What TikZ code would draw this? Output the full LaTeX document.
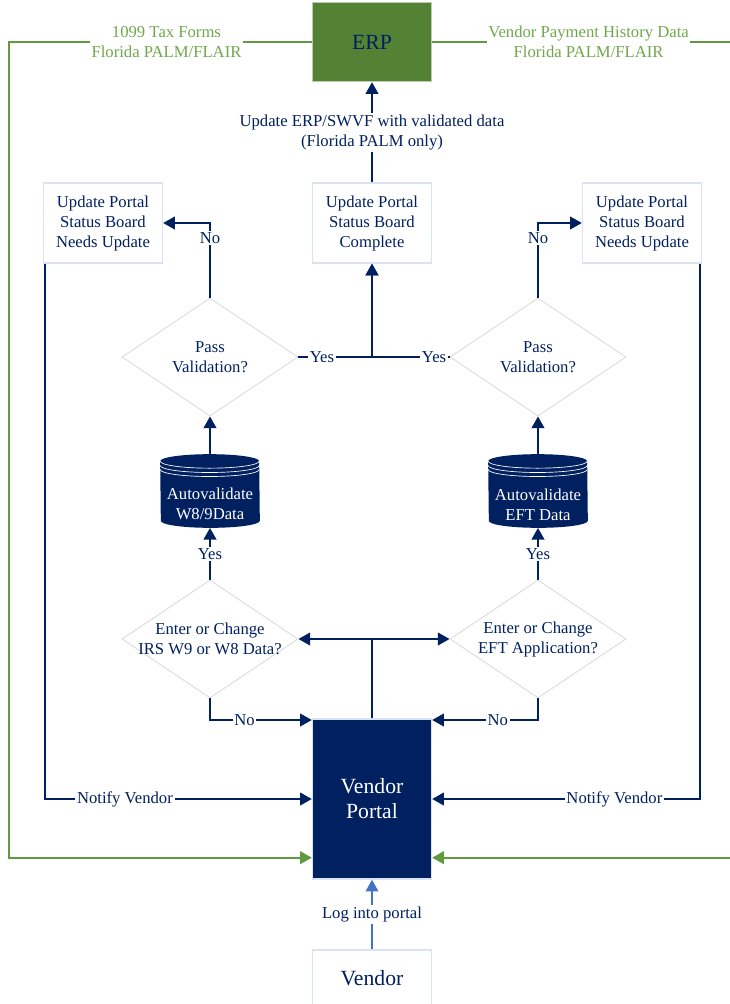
\documentclass[tikz,border=0pt]{standalone}
\usepackage{fontspec}
\setmainfont{Liberation Serif}
\usetikzlibrary{arrows.meta,shapes.geometric}
\definecolor{navy}{HTML}{002060}
\definecolor{erpgreen}{HTML}{548235}
\definecolor{linegreen}{HTML}{5F9B3E}
\definecolor{textgreen}{HTML}{6FA84B}
\definecolor{loginblue}{HTML}{4472C4}
\definecolor{boxline}{HTML}{DAE3F3}
\definecolor{dline}{HTML}{D9D9D9}
\begin{document}
\begin{tikzpicture}[x=0.6pt,y=-0.6pt,
	font=\fontsize{10}{12}\selectfont,
	box/.style={draw=boxline,line width=0.8pt,fill=white,minimum width=71.4pt,minimum height=48pt,inner sep=0pt,align=center,text=navy},
	decision/.style={diamond,draw=dline,line width=0.5pt,minimum width=105.6pt,minimum height=70.8pt,inner sep=0pt},
	dtxt/.style={align=center,text=navy},
	db/.style={minimum width=59.4pt,minimum height=43.8pt,inner sep=0pt},
	dbtxt/.style={align=center,text=white,yshift=-8pt},
	nline/.style={navy,line width=1.3pt,-{Triangle[length=7pt,width=7.5pt]}},
	gline/.style={linegreen,line width=1.3pt,-{Triangle[length=7pt,width=7.5pt]}},
	lbl/.style={fill=white,inner sep=1pt,text=navy,align=center},
	gtxt/.style={fill=white,inner sep=1pt,text=textgreen,align=center}]
	\useasboundingbox (0,0) rectangle (730,1004);

	% systems
	\node[box,draw=erpgreen!40,fill=erpgreen,minimum height=47.4pt,font=\fontsize{13}{15}\selectfont] (erp) at (372,42) {ERP};
	\node[box,draw=boxline,fill=navy,text=white,minimum height=96pt,font=\fontsize{13}{15}\selectfont] (portal) at (372,799) {Vendor\\Portal};
	\node[box,minimum height=33.6pt,font=\fontsize{13}{15}\selectfont] (vendor) at (372,978) {Vendor};

	% status boards
	\node[box] (lbox) at (103,223) {Update Portal\\Status Board\\Needs Update};
	\node[box] (comp) at (372,223) {Update Portal\\Status Board\\Complete};
	\node[box] (rbox) at (642,223) {Update Portal\\Status Board\\Needs Update};

	% decisions
	\node[decision,label={[dtxt]center:{Pass\\Validation?}}] (pv1) at (210,357) {};
	\node[decision,label={[dtxt]center:{Pass\\Validation?}}] (pv2) at (538,357) {};
	\node[decision,label={[dtxt]center:{Enter or Change\\IRS W9 or W8 Data?}}] (ec1) at (210,639) {};
	\node[decision,label={[dtxt]center:{Enter or Change\\EFT Application?}}] (ec2) at (538,639) {};

	% databases
	\node[db] (cyl1) at (210,491) {};
	\node[db] (cyl2) at (538,491) {};
	\foreach \c in {cyl1,cyl2} {
		\fill[navy] ([yshift=-4.2pt]\c.north west) arc[start angle=180,end angle=0,x radius=29.7pt,y radius=4.2pt]
			-- ([yshift=4.2pt]\c.south east) arc[start angle=0,end angle=-180,x radius=29.7pt,y radius=4.2pt] -- cycle;
		\foreach \s in {4.2,6.8,9.2} {
			\draw[white,line width=0.4pt] ([yshift=-\s*1pt]\c.north west) arc[start angle=180,end angle=360,x radius=29.7pt,y radius=4.2pt];
		}
	}
	\node[dbtxt] (cyl1txt) at (cyl1) {Autovalidate\\W8/9Data};
	\node[dbtxt] (cyl2txt) at (cyl2) {Autovalidate\\EFT Data};

	% ERP links
	\coordinate (gl) at (9,42);
	\coordinate (gr) at (733,42);
	\draw[gline] (erp.west) -- node[gtxt,pos=0.48]{1099 Tax Forms\\Florida PALM/FLAIR} (gl) |- ([yshift=13.2pt]portal.south west);
	\draw[gline] (erp.east) -- node[gtxt,pos=0.52]{Vendor Payment History Data\\Florida PALM/FLAIR} (gr) |- ([yshift=13.2pt]portal.south east);
	\draw[nline] (comp.north) -- node[lbl]{Update ERP/SWVF with validated data\\(Florida PALM only)} (erp.south);

	% login
	\draw[loginblue,line width=1pt,-{Triangle[length=7pt,width=7.5pt]}] (vendor.north) -- node[lbl]{Log into portal} (portal.south);

	% portal to forms
	\draw[nline] (portal.north) |- (ec1.east);
	\draw[nline] (portal.north) |- (ec2.west);
	\draw[nline] (ec1.south) |- node[lbl,pos=0.67]{No} ([yshift=-1pt]portal.north west);
	\draw[nline] (ec2.south) |- node[lbl,pos=0.69]{No} ([yshift=-1pt]portal.north east);
	\draw[nline] (ec1.north) -- node[lbl]{Yes} (cyl1.south);
	\draw[nline] (ec2.north) -- node[lbl]{Yes} (cyl2.south);
	\draw[nline] (cyl1.north) -- (pv1.south);
	\draw[nline] (cyl2.north) -- (pv2.south);

	% validation results
	\draw[nline] (pv1.north) |- node[lbl,pos=0.4]{No} (lbox.east);
	\draw[nline] (pv2.north) |- node[lbl,pos=0.4]{No} (rbox.west);
	\draw[nline] (pv1.east) -| node[lbl,pos=0.16]{Yes} (comp.south);
	\draw[nline] (pv2.west) -| node[lbl,pos=0.1]{Yes} (comp.south);

	% notify
	\draw[nline] ([xshift=1.2pt]lbox.south west) |- node[lbl,pos=0.65]{Notify Vendor} (portal.west);
	\draw[nline] ([xshift=-1.2pt]rbox.south east) |- node[lbl,pos=0.66]{Notify Vendor} (portal.east);
\end{tikzpicture}
\end{document}
